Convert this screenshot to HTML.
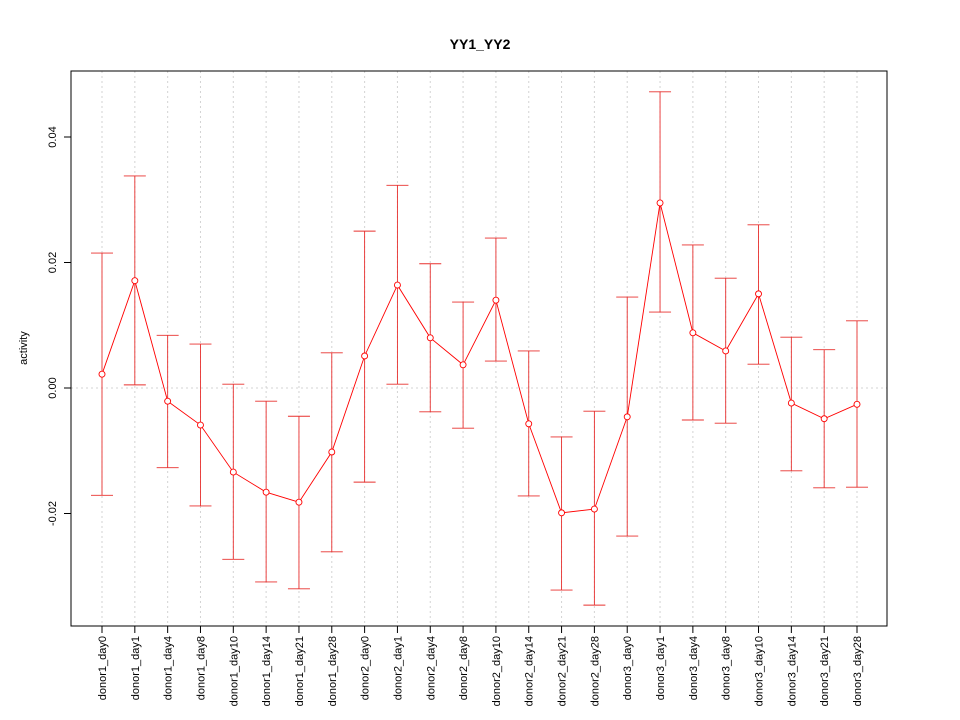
<!DOCTYPE html>
<html><head><meta charset="utf-8"><style>
body{margin:0;background:#fff;}
svg{display:block;font-family:"Liberation Sans",sans-serif;}
</style></head><body>
<svg id="chart" width="960" height="720">
<rect width="960" height="720" fill="#fff"/>
<text x="480" y="49" text-anchor="middle" font-size="14" font-weight="bold">YY1_YY2</text>
<g id="grid"></g><g id="axes"></g><g id="marks"></g>
<rect x="71" y="71" width="816" height="555" fill="none" stroke="#000"/>
<text transform="translate(27,348) rotate(-90)" text-anchor="middle" font-size="11">activity</text>
</svg>
<script>
const categories=["donor1_day0","donor1_day1","donor1_day4","donor1_day8","donor1_day10","donor1_day14","donor1_day21","donor1_day28","donor2_day0","donor2_day1","donor2_day4","donor2_day8","donor2_day10","donor2_day14","donor2_day21","donor2_day28","donor3_day0","donor3_day1","donor3_day4","donor3_day8","donor3_day10","donor3_day14","donor3_day21","donor3_day28"];
const means=[0.0022,0.0171,-0.0021,-0.0059,-0.0134,-0.0166,-0.0182,-0.0102,0.0051,0.0164,0.0080,0.0037,0.0140,-0.0057,-0.0199,-0.0193,-0.0046,0.0295,0.0088,0.0059,0.0150,-0.0024,-0.0049,-0.0026];
const upper=[0.0215,0.0338,0.0084,0.0070,0.0006,-0.0021,-0.0045,0.0056,0.0250,0.0323,0.0198,0.0137,0.0239,0.0059,-0.0078,-0.0037,0.0145,0.0472,0.0228,0.0175,0.0260,0.0081,0.0061,0.0107];
const lower=[-0.0171,0.0005,-0.0127,-0.0188,-0.0273,-0.0309,-0.0320,-0.0261,-0.0150,0.0006,-0.0038,-0.0064,0.0043,-0.0172,-0.0322,-0.0346,-0.0236,0.0121,-0.0051,-0.0056,0.0038,-0.0132,-0.0159,-0.0158];
const yTicks=[-0.02,0,0.02,0.04];
const yTickLabels=["-0.02","0.00","0.02","0.04"];
const NS="http://www.w3.org/2000/svg";
const x=i=>102+i*(857-102)/(categories.length-1);
const y=v=>388-v*6275;
function mk(parent,tag,attrs){const e=document.createElementNS(NS,tag);for(const k in attrs)e.setAttribute(k,attrs[k]);document.getElementById(parent).appendChild(e);return e;}
categories.forEach((c,i)=>{
 const g=mk('grid','line',{x1:x(i),x2:x(i),y1:71,y2:626,stroke:'#d3d3d3','stroke-dasharray':'2,3'});
 
 
 const t=mk('axes','line',{x1:x(i),x2:x(i),y1:626,y2:633,stroke:'#000'});
 
 
 const l=mk('axes','text',{transform:`translate(${x(i)+4},636) rotate(-90)`,'text-anchor':'end','font-size':'11'});
 l.textContent=c;
 
 
});
const h=mk('grid','line',{x1:71,x2:887,y1:y(0),y2:y(0),stroke:'#d3d3d3','stroke-dasharray':'2,3'});


yTicks.forEach((v,i)=>{
 const t=mk('axes','line',{x1:64,x2:71,y1:y(v),y2:y(v),stroke:'#000'});
 
 
 const l=mk('axes','text',{transform:`translate(${56},${y(v)}) rotate(-90)`,'text-anchor':'middle','font-size':'11'});
 l.textContent=yTickLabels[i];
 
 
});
categories.forEach((c,i)=>{
 const e=mk('marks','path',{d:`M${x(i)-11},${y(upper[i])}H${x(i)+11}M${x(i)},${y(upper[i])}V${y(lower[i])}M${x(i)-11},${y(lower[i])}H${x(i)+11}`,stroke:'#e8302f',fill:'none','stroke-width':'0.9'});
 
 
});
const line=mk('marks','polyline',{points:means.map((v,i)=>x(i)+','+y(v)).join(' '),fill:'none',stroke:'#ff0000','stroke-width':'0.9'});


means.forEach((v,i)=>{
 const p=mk('marks','circle',{cx:x(i),cy:y(v),r:3,fill:'#fff',stroke:'#ff0000','stroke-width':'0.9'});
 
 
});
</script>
</body></html>
